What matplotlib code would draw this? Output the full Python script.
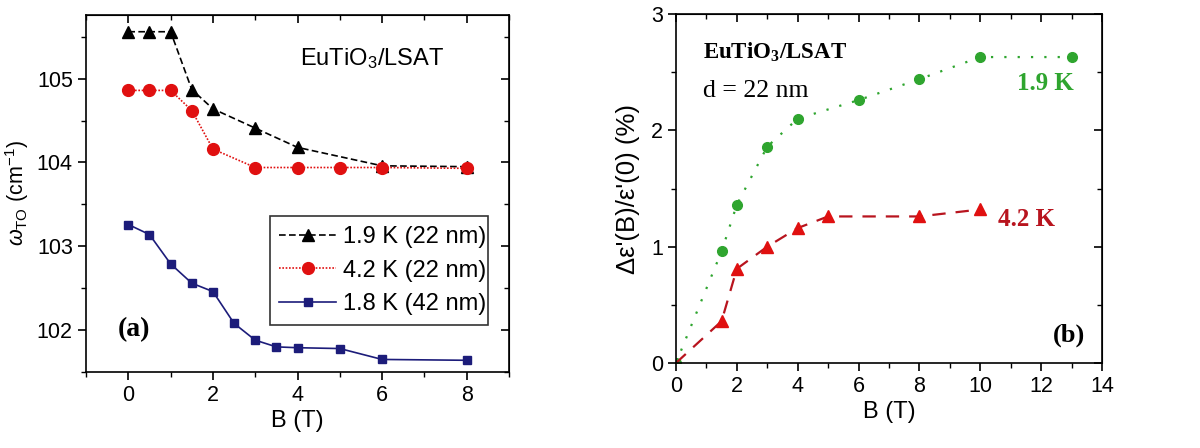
import matplotlib

matplotlib.rcParams['font.family'] = 'Liberation Sans'
matplotlib.rcParams['mathtext.fontset'] = 'custom'
matplotlib.rcParams['mathtext.rm'] = 'Liberation Sans'
matplotlib.rcParams['mathtext.it'] = 'Liberation Sans:italic'
matplotlib.rcParams['mathtext.bf'] = 'Liberation Serif:bold'
matplotlib.rcParams['font.size'] = 15.5

import matplotlib.pyplot as plt
from matplotlib.ticker import MultipleLocator

# panel (a): TO phonon frequency vs field
b_19 = [0, 0.5, 1, 1.5, 2, 3, 4, 6, 8]
w_19 = [105.56, 105.56, 105.56, 104.87, 104.64, 104.41, 104.18, 103.96, 103.95]
b_42 = [0, 0.5, 1, 1.5, 2, 3, 4, 5, 6, 8]
w_42 = [104.86, 104.86, 104.86, 104.62, 104.16, 103.94, 103.94, 103.94, 103.94, 103.93]
b_18 = [0, 0.5, 1, 1.5, 2, 2.5, 3, 3.5, 4, 5, 6, 8]
w_18 = [103.26, 103.14, 102.79, 102.56, 102.46, 102.08, 101.88, 101.80, 101.79,
        101.78, 101.65, 101.64]
labels_a = ['1.9 K (22 nm)', '4.2 K (22 nm)', '1.8 K (42 nm)']

# panel (b): relative permittivity change
b_g = [0, 1.5, 2, 3, 4, 6, 8, 10, 13]
eps_g = [0.0, 0.96, 1.36, 1.86, 2.10, 2.26, 2.44, 2.63, 2.63]
b_r = [0, 1.5, 2, 3, 4, 5, 8, 10]
eps_r = [0.0, 0.36, 0.81, 1.0, 1.16, 1.26, 1.26, 1.32]

navy = '#1c1c7a'
red = '#e01010'
green = '#2fa52f'
dred = '#b8141e'


def mirror_ticks(ax, xmaj, xmin, ymaj, ymin):
    ax.xaxis.set_major_locator(MultipleLocator(xmaj))
    ax.xaxis.set_minor_locator(MultipleLocator(xmin))
    ax.yaxis.set_major_locator(MultipleLocator(ymaj))
    ax.yaxis.set_minor_locator(MultipleLocator(ymin))
    ax.tick_params(which='major', direction='out', length=6, width=1.2)
    ax.tick_params(which='minor', direction='out', length=3.5, width=1.0)
    top = ax.secondary_xaxis('top')
    top.xaxis.set_major_locator(MultipleLocator(xmaj))
    top.xaxis.set_minor_locator(MultipleLocator(xmin))
    top.tick_params(which='major', direction='in', length=6, width=1.2,
                    labeltop=False)
    top.tick_params(which='minor', direction='in', length=3.5, width=1.0)
    right = ax.secondary_yaxis('right')
    right.yaxis.set_major_locator(MultipleLocator(ymaj))
    right.yaxis.set_minor_locator(MultipleLocator(ymin))
    right.tick_params(which='major', direction='in', length=6, width=1.2,
                      labelright=False)
    right.tick_params(which='minor', direction='in', length=3.5, width=1.0)
    for s in ax.spines.values():
        s.set_linewidth(1.2)


fig = plt.figure(figsize=(12, 4.48), dpi=100)

# ---- (a)
ax1 = fig.add_axes([0.0717, 0.1696, 0.3525, 0.797])
ax1.plot(b_19, w_19, color='black', ls=(0, (4, 2)), lw=1.2, marker='^',
         ms=9, label=labels_a[0])
ax1.plot(b_42, w_42, color=red, ls=(0, (1, 1)), lw=1.2, marker='o',
         ms=8.5, label=labels_a[1])
ax1.plot(b_18, w_18, color=navy, ls='-', lw=1.2, marker='s',
         ms=6, label=labels_a[2])
ax1.set_xlim(-1, 9)
ax1.set_ylim(101.5, 105.76)
mirror_ticks(ax1, 2, 1, 1, 0.5)
ax1.set_xlabel('B (T)', fontsize=17, labelpad=3)
ax1.set_ylabel(r'$\omega_{\rm TO}$ (cm$^{-1}$)', fontsize=15.5, labelpad=4)
ax1.text(0.505, 0.86, r'EuTiO$_3$/LSAT', transform=ax1.transAxes,
         fontsize=17)
ax1.text(0.075, 0.10, '(a)', transform=ax1.transAxes, fontsize=20,
         fontweight='bold', family='Liberation Serif')
leg = ax1.legend(loc='lower left', bbox_to_anchor=(0.435, 0.132, 0.515, 0.313),
                 mode='expand', fontsize=17, frameon=True, fancybox=False,
                 handlelength=2.4, borderpad=0.4, labelspacing=0.5,
                 handletextpad=0.3, borderaxespad=0)
leg.get_frame().set_edgecolor('black')
leg.get_frame().set_linewidth(1.2)

# ---- (b)
ax2 = fig.add_axes([0.5633, 0.1897, 0.3550, 0.779])
ax2.plot(b_g, eps_g, color=green, ls=(0, (1, 5)), lw=1.6, marker='o',
         ms=7)
ax2.plot(b_r, eps_r, color=dred, ls=(0, (6, 4.5)), lw=1.6, marker='^',
         ms=8, markerfacecolor=red, markeredgecolor=red, markevery=range(1, len(b_r)))
ax2.set_xlim(0, 14)
ax2.set_ylim(0, 3)
mirror_ticks(ax2, 2, 1, 1, 0.5)
ax2.set_xlabel('B (T)', fontsize=17, labelpad=3)
ax2.set_ylabel("\u0394\u03b5'(B)/\u03b5'(0) (%)", fontsize=18.5, labelpad=8)
ax2.text(0.063, 0.875, r'EuTiO$_\mathbf{3}$/LSAT', transform=ax2.transAxes,
         fontsize=16.5, fontweight='bold', family='Liberation Serif')
ax2.text(0.063, 0.78, 'd = 22 nm', transform=ax2.transAxes, va='center',
         fontsize=18.5, family='Liberation Serif')
ax2.text(0.80, 0.80, '1.9 K', transform=ax2.transAxes, color=green, va='center',
         fontsize=18, fontweight='bold', family='Liberation Serif')
ax2.text(0.755, 0.41, '4.2 K', transform=ax2.transAxes, color=dred, va='center',
         fontsize=18, fontweight='bold', family='Liberation Serif')
ax2.text(0.885, 0.06, '(b)', transform=ax2.transAxes, fontsize=19,
         fontweight='bold', family='Liberation Serif')

fig.savefig('out.png', dpi=100)
